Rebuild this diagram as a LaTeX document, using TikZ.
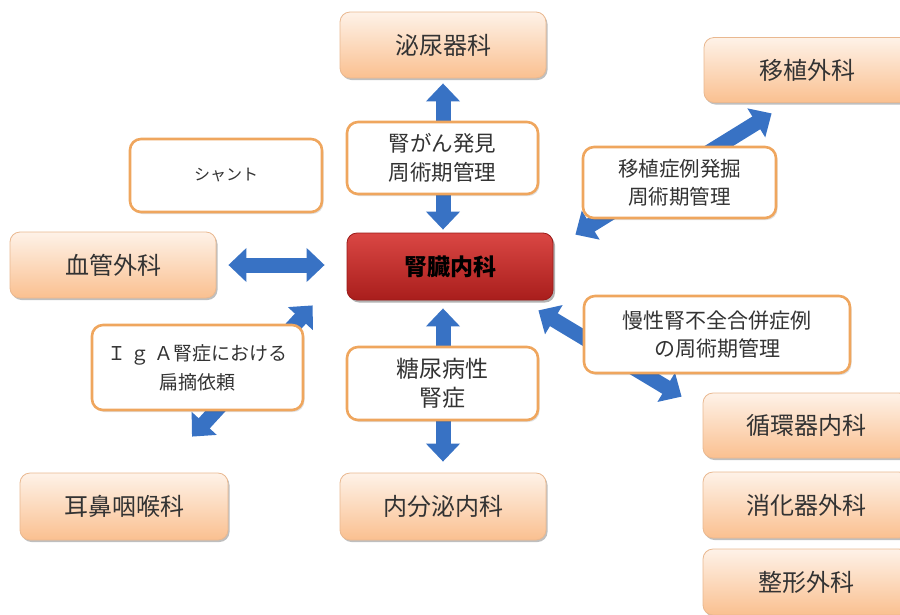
\documentclass[tikz,border=0pt]{standalone}
\usepackage{fontspec}
\setmainfont{Noto Sans CJK JP}
\usetikzlibrary{arrows.meta,shadows,calc}
\pgfdeclarelayer{bg}
\pgfsetlayers{bg,main}
\definecolor{deptTop}{HTML}{FEF2E8}
\definecolor{deptBot}{HTML}{FAC090}
\definecolor{deptLine}{HTML}{E9B890}
\definecolor{noteLine}{HTML}{EFA65E}
\definecolor{redTop}{HTML}{DA4744}
\definecolor{redBot}{HTML}{A91E1C}
\definecolor{redLine}{HTML}{9A1A18}
\definecolor{arrowBlue}{HTML}{3872C4}
\definecolor{txt}{HTML}{333333}
\tikzset{
  dept/.style={draw=deptLine, line width=0.8pt, rounded corners=10pt,
    top color=deptTop, bottom color=deptBot, text=txt,
    minimum width=206pt, minimum height=66pt,
    font=\fontsize{24}{28}\selectfont,
    drop shadow={shadow xshift=1.5pt, shadow yshift=-2pt, opacity=0.25, fill=black}},
  note/.style={draw=noteLine, line width=2.6pt, rounded corners=11pt, fill=white,
    text=txt, align=center, font=\fontsize{21.5}{29}\selectfont,
    drop shadow={shadow xshift=1.5pt, shadow yshift=-2pt, opacity=0.12, fill=black}},
  center/.style={draw=redLine, line width=0.8pt, rounded corners=10pt,
    top color=redTop, bottom color=redBot, text=black,
    minimum width=206pt, minimum height=67pt,
    font=\fontsize{23}{28}\selectfont\bfseries,
    drop shadow={shadow xshift=2pt, shadow yshift=-2.5pt, opacity=0.3, fill=black}},
  blockarrow/.style={draw=arrowBlue, line width=15pt,
    {Triangle[length=18pt,width=33pt]}-{Triangle[length=18pt,width=33pt]}}
}
\begin{document}
\begin{tikzpicture}[x=1pt,y=-1pt]
\useasboundingbox (0,0) rectangle (900,614);

% departments
\node[dept] (uro) at (443,45) {泌尿器科};
\node[dept, minimum width=206pt, minimum height=65pt] (trans) at (807,70) {移植外科};
\node[dept] (blood) at (113,265) {血管外科};
\node[dept, minimum width=208pt, minimum height=67pt] (ent) at (124,506.5) {耳鼻咽喉科};
\node[dept, minimum height=67pt] (endo) at (443,506.5) {内分泌内科};
\node[dept, minimum width=206pt, minimum height=65pt] (cardio) at (806,425.5) {循環器内科};
\node[dept, minimum width=206pt, minimum height=66pt] (gastro) at (806,505) {消化器外科};
\node[dept, minimum width=206pt, minimum height=66pt] (ortho) at (806,582) {整形外科};

% central
\node[center] (kid) at (450,266.5) {腎臓内科};

% notes
\node[note, minimum width=191pt, minimum height=72pt] (n1) at (442.5,158) {腎がん発見\\周術期管理};
\node[note, minimum width=192pt, minimum height=73pt, font=\fontsize{16}{20}\selectfont] (shunt) at (226,175.5) {シャント};
\node[note, minimum width=193pt, minimum height=71pt, font=\fontsize{20.5}{28}\selectfont] (n2) at (679.5,182.5) {移植症例発掘\\周術期管理};
\node[note, minimum width=211pt, minimum height=85pt, font=\fontsize{19}{29}\selectfont] (iga) at (197.5,367.5) {Ｉ ｇ Ａ腎症における\\扁摘依頼};
\node[note, minimum width=191pt, minimum height=73pt, font=\fontsize{23}{29}\selectfont] (dm) at (442.5,383.5) {糖尿病性\\腎症};
\node[note, minimum width=266pt, minimum height=77pt, font=\fontsize{21}{28}\selectfont] (ckd) at (717,334.5) {慢性腎不全合併症例\\の周術期管理};

% arrows
\begin{pgfonlayer}{bg}
\draw[blockarrow] ($(uro.south)+(0,5)$) -- ($(uro.south |- kid.north)+(0,-3)$);
\draw[blockarrow] ($(endo.north |- kid.south)+(0,8)$) -- ($(endo.north)+(0,-11)$);
\draw[blockarrow] ($(blood.east)+(12,0)$) -- ($(kid.west |- blood.east)+(-22,0)$);
\draw[blockarrow] ($(kid.north east)+(22,2)$) -- ($(trans.south west)+(68,10.5)$);
\draw[blockarrow] ($(kid.south west)+(-34,5)$) -- ($(ent.north)+(68,-36)$);
\draw[blockarrow] ($(kid.south east)+(-15,10)$) -- ($(cardio.north west)+(-21,4)$);
\end{pgfonlayer}
\end{tikzpicture}
\end{document}
